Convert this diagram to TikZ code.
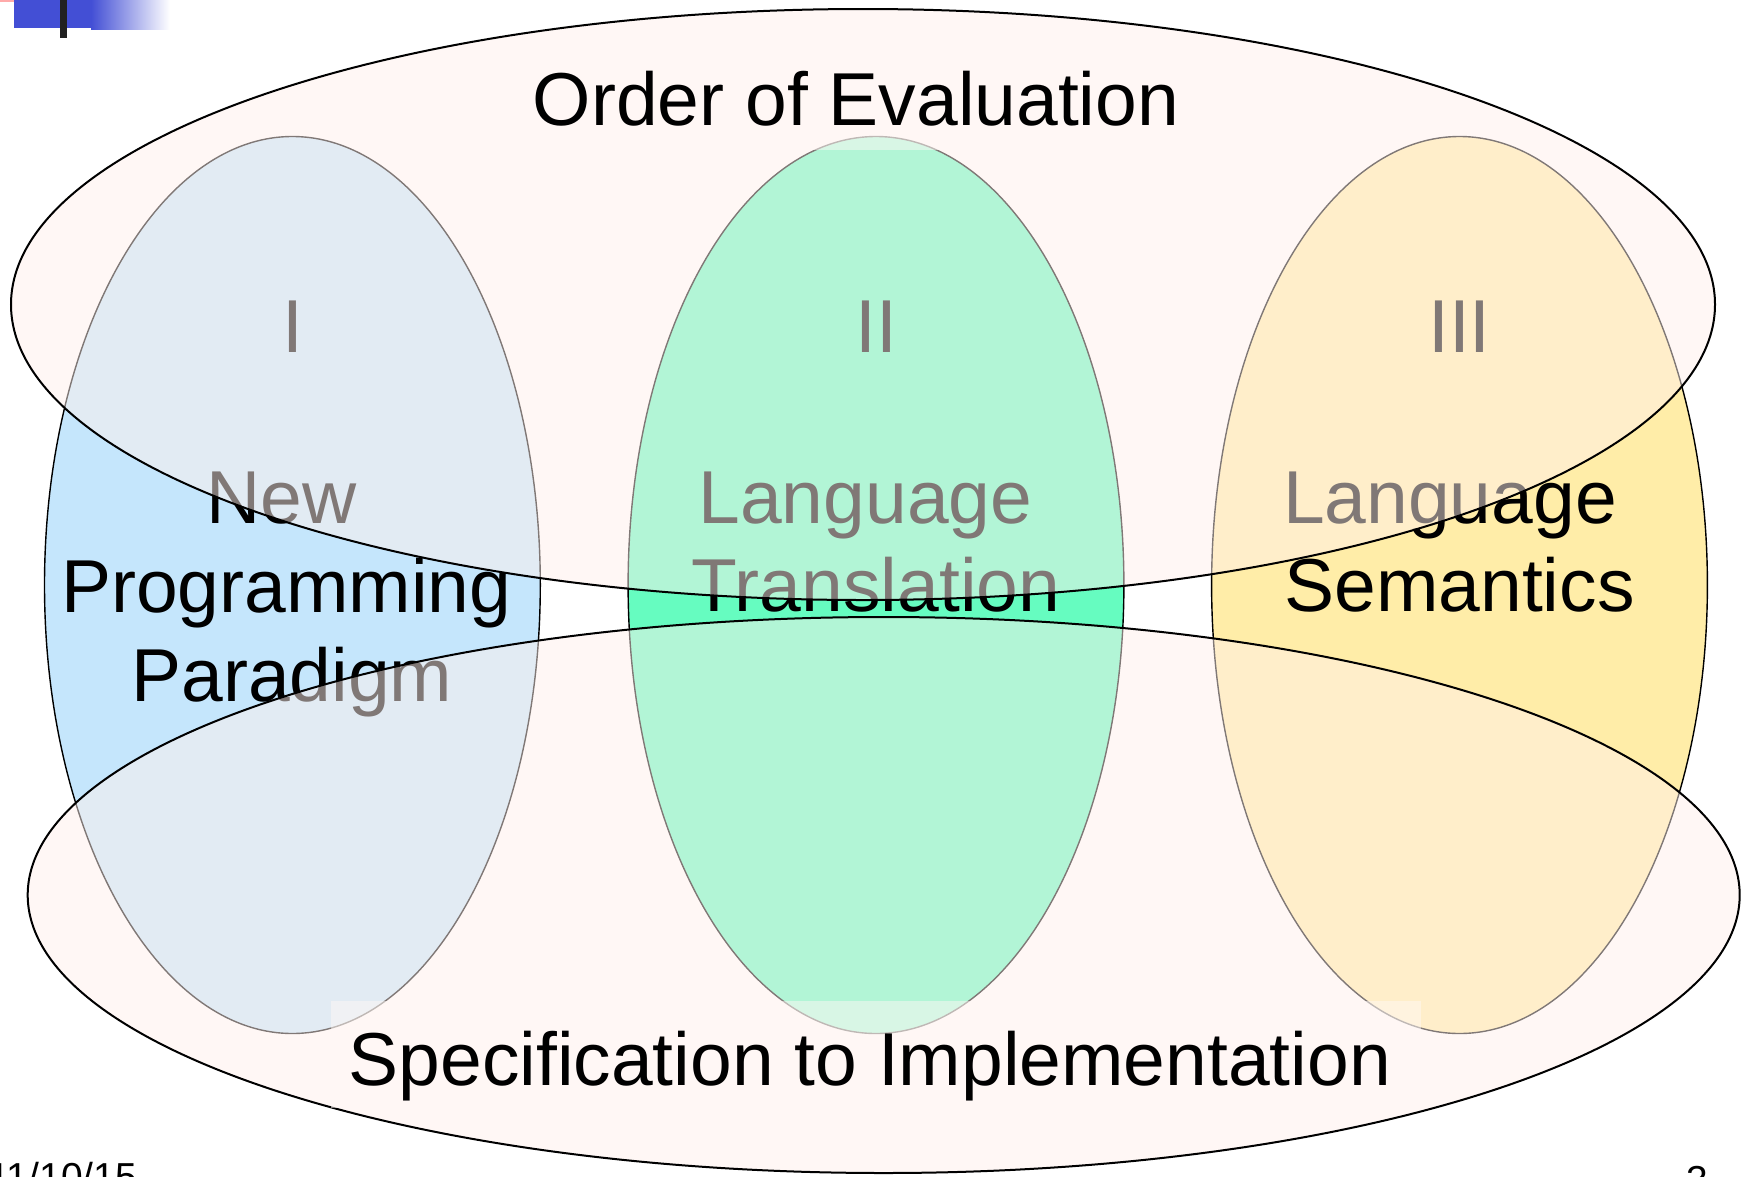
\documentclass[tikz,border=0pt]{standalone}
\usepackage{fontspec}
\setmainfont{Liberation Sans}
\usetikzlibrary{shapes.geometric}
\definecolor{blueF}{RGB}{197,230,252}
\definecolor{greenF}{RGB}{102,252,192}
\definecolor{yellowF}{RGB}{255,237,168}
\definecolor{veil}{RGB}{255,240,236}
\definecolor{boxF}{RGB}{255,248,245}
\definecolor{slideblue}{RGB}{67,79,213}
\definecolor{slidepink}{RGB}{255,170,170}
\begin{document}
\begin{tikzpicture}[x=1pt,y=-1pt,
  lobe/.style={ellipse, draw=black, line width=1.4pt, minimum width=495.8pt, minimum height=897pt, inner sep=0pt, outer sep=0pt},
  band/.style={ellipse, draw=black, line width=2pt, fill=veil, fill opacity=0.5, draw opacity=1, inner sep=0pt, outer sep=0pt},
  big/.style={font=\fontsize{75}{89}\selectfont, inner sep=0pt, anchor=base},
  tag/.style={fill=boxF, fill opacity=0.5, inner sep=0pt, draw=none},
  foot/.style={font=\fontsize{39}{45}\selectfont, inner sep=0pt, anchor=base west}]
\useasboundingbox (0,0) rectangle (1743,1176);
\clip (0,0) rectangle (1743,1176);
% slide decoration
\fill[slidepink] (0,0) rectangle (45,2);
\fill[slideblue] (14,0) rectangle (91,28);
\shade[left color=slideblue, right color=white] (91,0) rectangle (170,29);
\fill[black!87] (60,0) rectangle (67,38);
% three lobes
\node[lobe, fill=blueF] (p1) at (292.4,585) {};
\node[lobe, fill=greenF] (p2) at (876,585) {};
\node[lobe, fill=yellowF] (p3) at (1459.5,585) {};
% lobe texts
\node[big] (n1) at (293,352.7) {I};
\node[big] (n2) at (876,352.7) {II};
\node[big] (n3) at (1459.5,352.7) {III};
\node[big] (l1a) at (281.8,523) {New};
\node[big] (l1b) at (286.2,612) {Programming};
\node[big] (l1c) at (291.8,701.5) {Paradigm};
\node[big] (l2a) at (865.4,523) {Language};
\node[big] (l2b) at (876,611) {Translation};
\node[big] (l3a) at (1450,523) {Language};
\node[big] (l3b) at (1459.6,611) {Semantics};
% two bands on top
\node[band, minimum width=1704pt, minimum height=591pt] (top) at (863,304.5) {};
\node[band, minimum width=1712pt, minimum height=556pt] (bot) at (883.7,895) {};
% label boxes
\node[tag, minimum width=689pt, minimum height=108.3pt] (tbox) at (858.2,95.85) {};
\node[tag, minimum width=1089.6pt, minimum height=107.3pt] (bbox) at (875.8,1054.4) {};
\node[big] (toplab) at (856,125.5) {Order of Evaluation};
\node[big] (botlab) at (869.8,1085) {Specification to Implementation};
% footer
\node[foot] (date) at (-12,1190) {11/10/15};
\node[foot] (page) at (1686,1193) {3};
\end{tikzpicture}
\end{document}
